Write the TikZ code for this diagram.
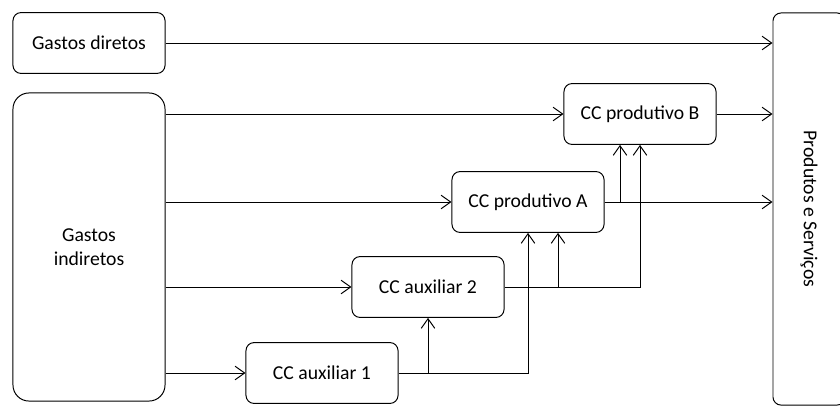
\documentclass[tikz,border=0pt]{standalone}
\usepackage{fontspec}
\setmainfont{Carlito}
\usetikzlibrary{arrows.meta}

\begin{document}
\begin{tikzpicture}[x=0.025cm,y=-0.025cm,line width=0.7pt,
  font=\fontsize{14}{17}\selectfont,
  box/.style={draw,rounded corners=2mm,minimum width=3.8cm,minimum height=1.52cm,align=center},
  arr/.style={-{Straight Barb[length=2.4mm,width=3.4mm]}}]
  \useasboundingbox (0,0) rectangle (840,408);
  % origens e destino
  \node[box] (dir) at (89,43) {Gastos diretos};
  \node[box,rounded corners=4mm,minimum height=7.7cm] (ind) at (89,247) {Gastos\\indiretos};
  \node[draw,rounded corners=2mm,rotate=-90,minimum width=9.8cm,minimum height=1.8cm] (ps) at (809,209) {Produtos e Serviços};
  % centros de custo
  \node[box] (pB) at (640,114) {CC produtivo B};
  \node[box] (pA) at (528,202) {CC produtivo A};
  \node[box] (a2) at (428,287) {CC auxiliar 2};
  \node[box] (a1) at (322,373) {CC auxiliar 1};
  \coordinate (pBin1) at ([xshift=-0.5cm]pB.south);
  \coordinate (pAin2) at ([xshift=0.75cm]pA.south);
  % rateios
  \draw[arr] (dir) -- (dir -| ps.south);
  \foreach \n in {pB,pA,a2,a1}
    \draw[arr] (ind.east |- \n) -- (\n);
  \foreach \n in {pB,pA}
    \draw[arr] (\n) -- (\n -| ps.south);
  \draw[arr] (pA.east) -| (pBin1);
  \draw[arr] (a2.east) -| (pB.south);
  \draw[arr] (a2.east -| pAin2) -- (pAin2);
  \draw[arr] (a1.east) -| (pA.south);
  \draw[arr] (a1.east -| a2.south) -- (a2.south);
\end{tikzpicture}
\end{document}
